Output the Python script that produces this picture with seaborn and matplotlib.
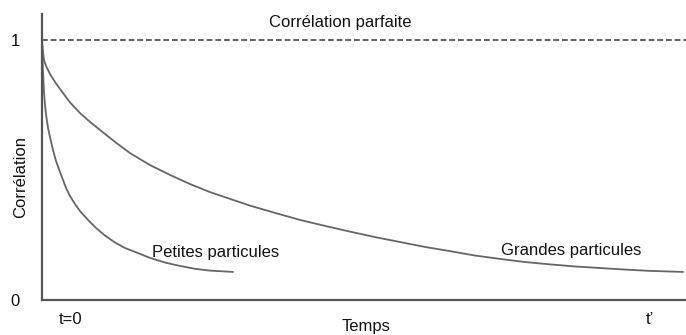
import matplotlib
matplotlib.use("Agg")
import matplotlib.pyplot as plt
import pandas as pd
import seaborn as sns

# Temps (arbitrary units, t=0 at origin) and correlation readings for each particle size
t_grandes = [0, 0.5, 1, 2, 4, 8, 14, 21, 28, 38, 48, 58, 73, 88, 108, 128, 148,
             168, 188, 208, 233, 258, 283, 308, 333, 358, 383, 408, 433, 458,
             483, 508, 533, 558, 583, 608, 641]
c_grandes = [1.0, 0.973, 0.950, 0.923, 0.900, 0.869, 0.833, 0.796, 0.760,
             0.719, 0.685, 0.654, 0.608, 0.565, 0.519, 0.481, 0.446, 0.415,
             0.389, 0.363, 0.335, 0.308, 0.285, 0.263, 0.242, 0.223, 0.204,
             0.188, 0.171, 0.158, 0.146, 0.137, 0.129, 0.123, 0.117, 0.112,
             0.108]

t_petites = [0, 0.5, 1, 2, 3, 4, 6, 8, 11, 14, 18, 21, 24, 28, 33, 38, 46, 54,
             63, 73, 83, 93, 108, 123, 138, 153, 168, 191]
c_petites = [1.0, 0.931, 0.877, 0.800, 0.750, 0.715, 0.662, 0.627, 0.577,
             0.535, 0.492, 0.462, 0.431, 0.400, 0.369, 0.342, 0.308, 0.277,
             0.248, 0.221, 0.200, 0.185, 0.162, 0.144, 0.131, 0.120, 0.113,
             0.108]

series_names = ["Petites particules", "Grandes particules"]
x_tick_pos = [29, 608]
x_tick_labels = ["t=0", "t\u2019"]
y_tick_pos = [0, 1]
y_tick_labels = ["0", "1"]
perfect_corr = 1.0

df = pd.concat([
    pd.DataFrame({"Temps": t_petites, "Corrélation": c_petites, "taille": series_names[0]}),
    pd.DataFrame({"Temps": t_grandes, "Corrélation": c_grandes, "taille": series_names[1]}),
])

sns.set_theme(style="white")
plt.rcParams["font.family"] = ["Liberation Sans", "DejaVu Sans"]

fig = plt.figure(figsize=(6.86, 3.35), dpi=100)
ax = fig.add_axes([42 / 686, 1 - 300 / 335, 644 / 686, 286 / 335])

line_col = "#666666"
sns.lineplot(data=df, x="Temps", y="Corrélation", hue="taille",
             palette={series_names[0]: line_col, series_names[1]: line_col},
             linewidth=1.3, legend=False, ax=ax, sort=False, estimator=None,
             solid_joinstyle="round", solid_capstyle="round")

ax.axhline(perfect_corr, color="#555555", linewidth=1.3, linestyle=(0, (3.2, 1.6)))

ax.set_xlim(0, 644)
ax.set_ylim(0, 1.1)

for side in ["top", "right"]:
    ax.spines[side].set_visible(False)
for side in ["left", "bottom"]:
    ax.spines[side].set_color("#555555")
    ax.spines[side].set_linewidth(1.6)

ax.set_xticks(x_tick_pos, x_tick_labels)
ax.set_yticks(y_tick_pos, y_tick_labels)
ax.tick_params(axis="both", length=0, labelsize=12, colors="#111111")
ax.tick_params(axis="x", pad=9)
ax.tick_params(axis="y", pad=16)

ax.set_xlabel("Temps", fontsize=12, color="#111111")
ax.xaxis.set_label_coords((366 - 42) / 644, (300 - 331) / 286)
ax.xaxis.label.set_va("baseline")

ax.set_ylabel("Corrélation", fontsize=12, color="#111111")
ax.yaxis.set_label_coords((21 - 42) / 644, (300 - 176.5) / 286)
ax.yaxis.label.set_va("center")

ax.text(298, 1.05, "Corrélation parfaite", ha="center", va="baseline",
        fontsize=12, color="#111111")
ax.text(174, 0.165, series_names[0], ha="center", va="baseline",
        fontsize=12, color="#111111")
ax.text(529, 0.173, series_names[1], ha="center", va="baseline",
        fontsize=12, color="#111111")

fig.savefig("out.png", dpi=100)
